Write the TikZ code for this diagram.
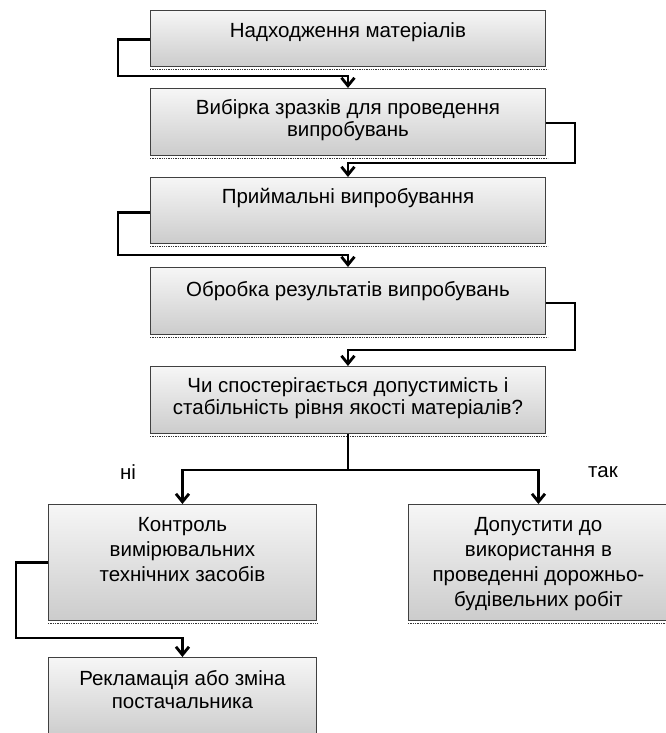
\documentclass[tikz,border=0pt]{standalone}
\usepackage{fontspec}
\setmainfont{Liberation Sans}
\usetikzlibrary{arrows.meta,calc}
\begin{document}
\begin{tikzpicture}[x=1pt,y=-1pt,
  box/.style={draw=black!75, line width=0.9pt, top color=gray!7, bottom color=gray!40,
    inner sep=0pt, minimum width=#1, anchor=north west},
  txt/.style={font=\fontsize{20.5}{22.5}\selectfont, align=center, anchor=north, inner sep=0pt},
  shadowline/.style={draw=black!80, line width=1.4pt, dash pattern=on 1.3pt off 1pt},
  conn/.style={line width=2.8pt, -{Straight Barb[length=8pt,width=13pt]}},
  lbl/.style={font=\fontsize{20.5}{22}\selectfont, inner sep=0pt}]
\useasboundingbox (0,0) rectangle (666,733);

% boxes
\node[box=395pt, minimum height=56pt] (b1) at (150,10) {};
\node[box=395pt, minimum height=67pt] (b2) at (150,88) {};
\node[box=395pt, minimum height=66pt] (b3) at (150,177) {};
\node[box=395pt, minimum height=67pt] (b4) at (150,267) {};
\node[box=395pt, minimum height=67pt] (b5) at (150,366) {};
\node[box=268pt, minimum height=116pt] (b6) at (48,504) {};
\node[box=260pt, minimum height=116pt] (b7) at (408,504) {};
\node[box=268pt, minimum height=80pt] (b8) at (48,657) {};

% shadows
\foreach \b in {b1,b2,b3,b4,b5,b6,b7}
  \draw[shadowline] ([yshift=-2.5pt]\b.south west) -- ([yshift=-2.5pt,xshift=2pt]\b.south east);

% texts
\node[txt] (t1) at ($(b1.north)+(0,12)$) {Надходження матеріалів};
\node[txt] (t2) at ($(b2.north)+(0,11)$) {Вибірка зразків для проведення\\випробувань};
\node[txt] (t3) at ($(b3.north)+(0,11)$) {Приймальні випробування};
\node[txt] (t4) at ($(b4.north)+(0,14)$) {Обробка результатів випробувань};
\node[txt] (t5) at ($(b5.north)+(0,11)$) {Чи спостерігається допустимість і\\стабільність рівня якості матеріалів?};
\node[txt, font=\fontsize{20.5}{25}\selectfont] (t6) at ($(b6.north)+(0,13)$) {Контроль\\вимірювальних\\технічних засобів};
\node[txt, font=\fontsize{20.5}{25}\selectfont] (t7) at ($(b7.north)+(0,13)$) {Допустити до\\використання в\\проведенні дорожньо-\\будівельних робіт};
\node[txt, font=\fontsize{20.5}{23}\selectfont] (t8) at ($(b8.north)+(0,13)$) {Рекламація або зміна\\постачальника};

\node[lbl] (ni) at (128,472) {ні};
\node[lbl] (tak) at (603,472) {так};

% connectors
\coordinate (k1) at (118,76);
\draw[conn] ([yshift=-1pt]b1.west) -| (k1) -- (b1.south |- k1) -- (b2.north);
\coordinate (k2) at (575,163);
\draw[conn] ([yshift=-1pt]b2.east) -| (k2) -- (b2.south |- k2) -- (b3.north);
\coordinate (k3) at (118,255);
\draw[conn] ([yshift=-2pt]b3.west) -| (k3) -- (b3.south |- k3) -- (b4.north);
\coordinate (k4) at (575,350);
\draw[conn] ([yshift=-2pt]b4.east) -| (k4) -- (b4.south |- k4) -- (b5.north);
\coordinate (k5) at ($(b5.south)+(0,36)$);
\draw[line width=2.8pt] (b5.south) -- (k5);
\draw[conn] (k5) -| (b6.north);
\draw[conn] (k5) -| (b7.north);
\coordinate (k6) at (16,638);
\draw[conn] (b6.west) -| (k6) -- (b6.south |- k6) -- (b8.north);
\end{tikzpicture}
\end{document}
